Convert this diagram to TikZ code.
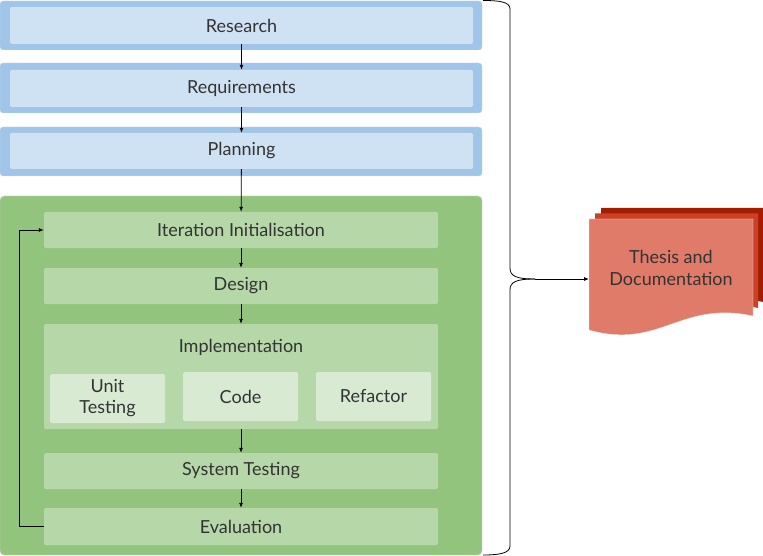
\documentclass[tikz,border=0pt]{standalone}
\usepackage{fontspec}
\setmainfont{Lato}
\usetikzlibrary{arrows.meta}
\definecolor{blueout}{HTML}{9FC5E8}
\definecolor{bluein}{HTML}{CFE2F3}
\definecolor{greenout}{HTML}{93C47D}
\definecolor{greenmid}{HTML}{B6D7A8}
\definecolor{greenin}{HTML}{D9EAD3}
\definecolor{docfront}{HTML}{E07B6A}
\definecolor{docmid}{HTML}{CC4125}
\definecolor{docback}{HTML}{A61C00}
\definecolor{txt}{HTML}{333333}
\begin{document}
\begin{tikzpicture}[x=1pt,y=-1pt]
        \tikzstyle{frame} = [fill=blueout,draw=black!15,rounded corners=3pt,inner sep=0pt]
        \tikzstyle{phase} = [fill=bluein,rounded corners=1.5pt,inner sep=0pt,minimum width=463pt,minimum height=37pt,text=txt,font=\fontsize{18}{21}\selectfont]
        \tikzstyle{stage} = [fill=greenmid,rounded corners=1.5pt,inner sep=0pt,minimum width=394pt,minimum height=36pt,text=txt,font=\fontsize{18}{21}\selectfont]
        \tikzstyle{task} = [fill=greenin,rounded corners=1.5pt,inner sep=0pt,minimum width=115pt,minimum height=49pt,text=txt,align=center,font=\fontsize{18}{21}\selectfont]
        \tikzstyle{arrow} = [-{Latex[length=5pt,width=4pt]},line width=0.8pt]

        \useasboundingbox (0,0) rectangle (763,556);

        % waterfall part
        \node[frame,minimum width=482pt,minimum height=49pt] (researchbg) at (241,25.5){};
        \node[frame,minimum width=482pt,minimum height=50pt] (requirementsbg) at (241,88){};
        \node[frame,minimum width=482pt,minimum height=49pt] (planningbg) at (241,151.5){};
        \node[phase] (research) at (241.5,25.5){Research};
        \node[phase] (requirements) at (241.5,88.5){Requirements};
        \node[phase,minimum height=36pt] (planning) at (241.5,151){Planning};

        % iterations
        \node[frame,fill=greenout,rounded corners=4pt,minimum width=482pt,minimum height=359pt] (iterbg) at (241,375.5){};
        \node[stage] (iteration) at (241,230){Iteration Initialisation};
        \node[stage] (design) at (241,286){Design};
        \node[stage,minimum height=105pt] (implementation) at (241,376.5){};
        \node[text=txt,font=\fontsize{18}{21}\selectfont] (implabel) at (241,347){Implementation};
        \node[task] (unit) at (107.5,398.5){Unit\\Testing};
        \node[task] (code) at (240.5,396.5){Code};
        \node[task] (refactor) at (373.5,396.5){Refactor};
        \node[stage] (system) at (241,471){System Testing};
        \node[stage,minimum height=37pt] (evaluation) at (241,526.5){Evaluation};

        \draw[arrow] (research) edge (requirements) (requirements) edge (planning) (planning) edge (iteration) (iteration) edge (design) (design) edge (implementation) (implementation) edge (system) (system) edge (evaluation);
        \draw[arrow] (evaluation.west) -- (19,526.5) |- (iteration.west);

        % thesis document
        \fill[docback] (601,208) -- (763,208) -- (763,302) .. controls (690,286) and (670,336) .. (601,316) -- cycle;
        \fill[docmid] (595,213.5) -- (758,213.5) -- (758,308) .. controls (685,292) and (665,342) .. (595,322) -- cycle;
        \fill[docfront,draw=black!10] (589,219) -- (753,219) -- (753,316) .. controls (680,300) and (660,350) .. (589,330) -- cycle;
        \node[text=txt,align=center,font=\fontsize{18}{22}\selectfont] (thesis) at (671,268){Thesis and\\Documentation};
        \coordinate (docin) at (589,279);

        % brace
        \coordinate (tip) at (535,279);
        \draw[line width=0.8pt] (483,0.5) .. controls (500,0.5) and (510,2) .. (510,9) -- (510,268) .. controls (510,276) and (516,279) .. (tip);
        \draw[line width=0.8pt] (483,555) .. controls (500,555) and (510,553) .. (510,546) -- (510,290) .. controls (510,282) and (516,279) .. (tip);
        \draw[arrow] (tip) -- (docin);

    \end{tikzpicture}
\end{document}
